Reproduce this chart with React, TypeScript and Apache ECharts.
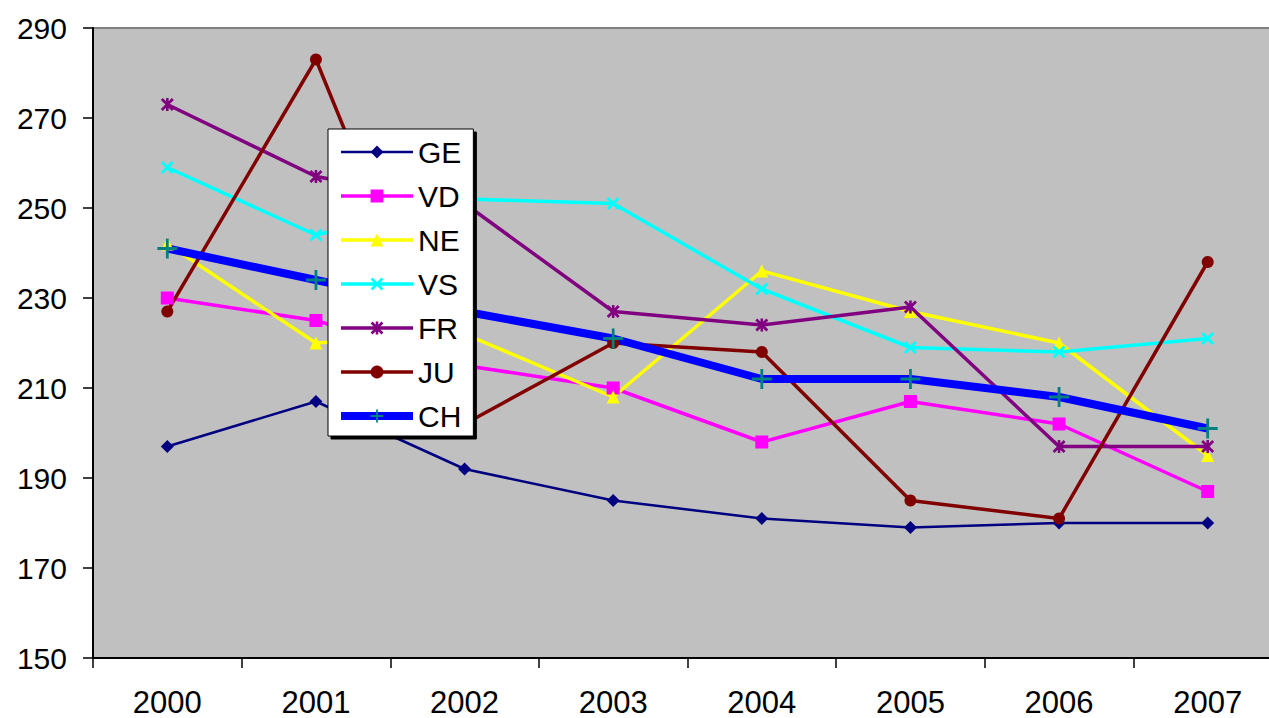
import React, { useEffect, useRef } from "react";
import * as echarts from "echarts";

const years = ["2000", "2001", "2002", "2003", "2004", "2005", "2006", "2007"];
const GE = [197, 207, 192, 185, 181, 179, 180, 180];
const VD = [230, 225, 215, 210, 198, 207, 202, 187];
const NE = [242, 220, 222, 208, 236, 227, 220, 195];
const VS = [259, 244, 252, 251, 232, 219, 218, 221];
const FR = [273, 257, 251, 227, 224, 228, 197, 197];
const JU = [227, 283, 202, 220, 218, 185, 181, 238];
const CH = [241, 234, 227, 221, 212, 212, 208, 201];

const X_PATH =
  "path://M0,1.5 L1.5,0 L5,3.5 L8.5,0 L10,1.5 L6.5,5 L10,8.5 L8.5,10 L5,6.5 L1.5,10 L0,8.5 L3.5,5 Z";
const STAR_PATH =
  "path://M0,1.5 L1.5,0 L5,3.5 L8.5,0 L10,1.5 L6.5,5 L10,8.5 L8.5,10 L5,6.5 L1.5,10 L0,8.5 L3.5,5 Z M4,0 L6,0 L6,10 L4,10 Z";
const PLUS_PATH =
  "path://M4.3,0 L5.7,0 L5.7,4.3 L10,4.3 L10,5.7 L5.7,5.7 L5.7,10 L4.3,10 L4.3,5.7 L0,5.7 L0,4.3 L4.3,4.3 Z";

const FONT = "'Liberation Sans', Arial, sans-serif";

export default function App() {
  const ref = useRef<HTMLDivElement>(null);
  useEffect(() => {
    if (!ref.current) return;
    const chart = echarts.init(ref.current, undefined, { renderer: "svg" });
    const mk = (
      name: string,
      data: number[],
      color: string,
      width: number,
      symbol: string,
      size: number,
      markerColor?: string
    ) => ({
      name,
      type: "line",
      data,
      symbol,
      symbolSize: size,
      lineStyle: { color, width },
      itemStyle: { color: markerColor || color },
      emphasis: { disabled: true },
    });
    const widths: Record<string, number> = { GE: 2.5, VD: 3.5, NE: 3.5, VS: 3.5, FR: 3.5, JU: 3.5, CH: 8 };
    const seriesDefs = [
      mk("GE", GE, "#000080", widths.GE, "diamond", 13),
      mk("VD", VD, "#ff00ff", widths.VD, "rect", 13),
      mk("NE", NE, "#ffff00", widths.NE, "triangle", 13),
      mk("VS", VS, "#00ffff", widths.VS, X_PATH, 13),
      mk("FR", FR, "#800080", widths.FR, STAR_PATH, 13),
      mk("JU", JU, "#800000", widths.JU, "circle", 12),
      mk("CH", CH, "#0000ff", widths.CH, PLUS_PATH, 20, "#008080"),
    ];
    chart.setOption({
      animation: false,
      grid: {
        left: 93,
        top: 28,
        right: 0,
        bottom: 60,
        show: true,
        backgroundColor: "#c0c0c0",
        borderColor: "#808080",
        borderWidth: 2,
      },
      legend: {
        orient: "vertical",
        left: 328,
        top: 129,
        itemWidth: 72,
        itemHeight: 16,
        itemGap: 14,
        padding: [8, 12, 5, 9],
        backgroundColor: "#ffffff",
        borderColor: "#000000",
        borderWidth: 1,
        shadowColor: "#000000",
        shadowOffsetX: 3,
        shadowOffsetY: 3,
        shadowBlur: 0,
        selectedMode: false,
        textStyle: { fontSize: 30, lineHeight: 30, fontFamily: FONT, color: "#000" },
        data: seriesDefs.map((s) => ({
          name: s.name,
          lineStyle: { width: widths[s.name] },
        })),
      },
      xAxis: {
        type: "category",
        data: years,
        boundaryGap: true,
        axisLine: { lineStyle: { color: "#000", width: 2 } },
        axisTick: { show: true, length: 10, lineStyle: { color: "#000", width: 1.5 } },
        axisLabel: { fontSize: 31, lineHeight: 26, fontFamily: FONT, color: "#000", margin: 31 },
        splitLine: { show: false },
      },
      yAxis: {
        type: "value",
        min: 150,
        max: 290,
        interval: 20,
        axisLine: { show: true, lineStyle: { color: "#000", width: 2 } },
        axisTick: { show: true, length: 10, lineStyle: { color: "#000", width: 1.5 } },
        axisLabel: { fontSize: 30, fontFamily: FONT, color: "#000", margin: 26 },
        splitLine: { show: false },
      },
      series: seriesDefs,
    });
    return () => chart.dispose();
  }, []);
  return (
    <div
      style={{ position: "fixed", left: 0, top: 0, width: 1269, height: 718, overflow: "hidden", background: "#fff" }}
    >
      <div ref={ref} style={{ width: 1282, height: 718 }} />
    </div>
  );
}
